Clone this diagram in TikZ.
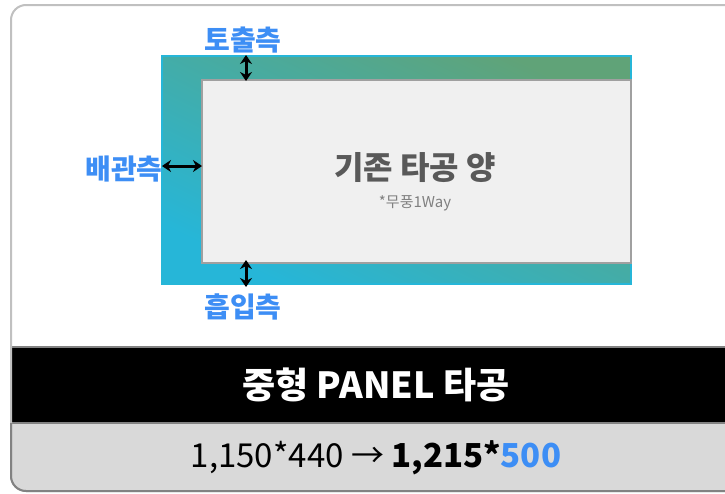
\documentclass[tikz,border=0pt]{standalone}
\usepackage{fontspec}
\setmainfont{Noto Sans CJK KR}
\usetikzlibrary{arrows.meta}
\definecolor{lblue}{RGB}{61,142,245}
\definecolor{fgreen}{RGB}{96,163,120}
\definecolor{fcyan}{RGB}{38,182,216}
\definecolor{boxgray}{RGB}{240,240,240}
\definecolor{boxedge}{RGB}{160,160,160}
\definecolor{framegray}{RGB}{192,192,192}
\definecolor{bandgray}{RGB}{217,217,217}
\definecolor{bandedge}{RGB}{130,130,130}
\definecolor{titlegray}{RGB}{89,89,89}
\definecolor{subgray}{RGB}{128,128,128}
\tikzset{
  sidelabel/.style={text=lblue, font=\bfseries\fontsize{28}{32}\selectfont, inner sep=0pt},
  dimarrow/.style={{Stealth[length=9pt,width=12pt]}-{Stealth[length=9pt,width=12pt]}, line width=3pt, draw=black},
}
\begin{document}
\begin{tikzpicture}[x=1pt,y=-1pt]
\useasboundingbox (0,0) rectangle (725,493);
% outer card
\begin{scope}
  \clip[rounded corners=15pt] (11,5) rectangle (740,491);
  \fill[white] (11,5) rectangle (740,491);
  \fill[black] (11,347) rectangle (740,423);
  \fill[bandgray] (11,423) rectangle (740,491);
  \draw[bandedge, line width=2pt] (11,347) -- (740,347);
  \draw[bandedge, line width=2pt] (11,423) -- (740,423);
\end{scope}
\draw[framegray, line width=2pt, rounded corners=15pt] (11,5) rectangle (740,491);
\begin{scope}
  \clip (0,423) rectangle (740,495);
  \draw[bandedge, line width=2pt, rounded corners=15pt] (11,5) rectangle (740,491);
\end{scope}
% frame
\shade[top color=fgreen, bottom color=fcyan, shading angle=-26] (162,56) rectangle (631,284);
\draw[fcyan, line width=1.2pt] (162,56) rectangle (631,284);
\node[draw=boxedge, line width=2pt, fill=boxgray, minimum width=429pt, minimum height=183pt, inner sep=0pt, anchor=north west] (box) at (201,79) {};
% texts
\node[text=titlegray, font=\bfseries\fontsize{32}{36}\selectfont] (title) at (415,168) {기존 타공 양};
\node[text=subgray, font=\fontsize{15}{18}\selectfont] (sub) at (415,203) {*무풍1Way};
\node[sidelabel] (top) at (243,40) {토출측};
\node[sidelabel] (left) at (124,169) {배관측};
\node[sidelabel] (bot) at (243,307) {흡입측};
% arrows
\coordinate (ta) at (246,55);
\coordinate (tb) at (246,81);
\coordinate (la) at (162,166);
\coordinate (lb) at (202,166);
\coordinate (ba) at (246,260);
\coordinate (bb) at (246,287);
\draw[dimarrow] (ta) -- (tb);
\draw[dimarrow] (la) -- (lb);
\draw[dimarrow] (ba) -- (bb);
% bands
\node[text=white, font=\bfseries\fontsize{36}{40}\selectfont] (panel) at (376,385) {중형 PANEL 타공};
\node[text=black, font=\fontsize{33}{38}\selectfont] (dims) at (376,458) {1,150*440 → \textbf{1,215*\textcolor{lblue}{500}}};
\end{tikzpicture}
\end{document}
